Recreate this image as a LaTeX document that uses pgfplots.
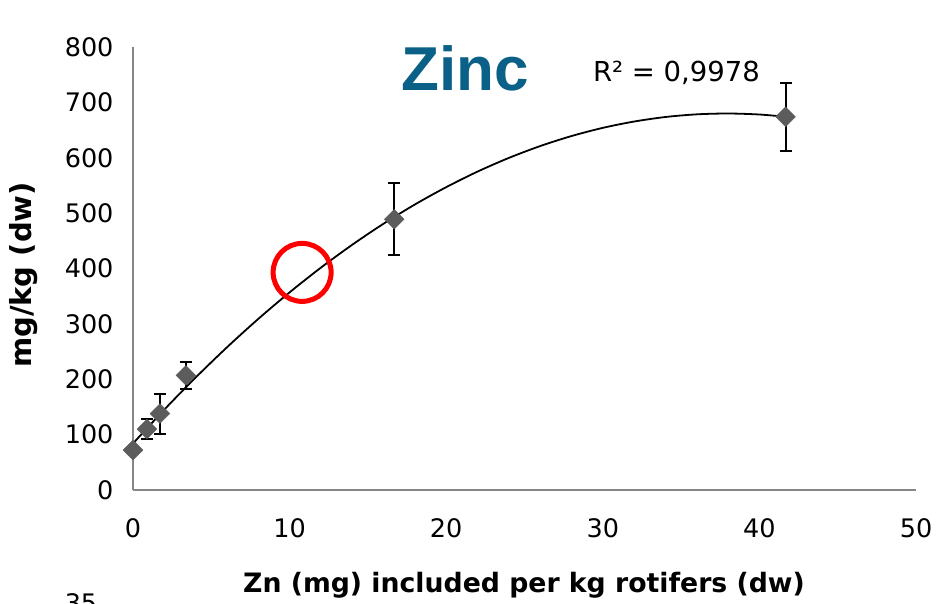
\documentclass[border=0pt]{standalone}
\usepackage{pgfplots}
\pgfplotsset{compat=1.18}
\usepackage{fontspec}
\setmainfont{DejaVu Sans}
\newfontfamily\titlefont{Liberation Sans}
\definecolor{zinctitle}{RGB}{10,96,134}
\definecolor{markgray}{RGB}{92,92,92}
\definecolor{axisgray}{RGB}{134,134,134}

% measured concentrations: x, mean, error
\pgfplotstableread{
x      y    err
0.89   110  18
1.72   138  36
3.38   207  25
16.68  489  65
41.67  674  61
}\zincdata

\begin{document}
\begin{tikzpicture}[x=1pt,y=1pt]
\begin{axis}[
  scale only axis, width=783pt, height=443pt,
  xmin=0, xmax=50, ymin=0, ymax=800,
  xtick={0,10,...,50}, ytick={0,100,...,800},
  axis x line*=bottom, axis y line*=left,
  axis line style={draw=axisgray, line width=2pt},
  major tick length=0pt,
  tick style={draw=none},
  /pgf/number format/assume math mode=true,
  ticklabel style={font=\fontsize{25.5}{28}\selectfont},
  xticklabel style={yshift=-25pt},
  yticklabel style={xshift=-16pt},
  clip=false,
]
\coordinate (O) at (axis cs:0,0);
% error bars and markers
\addplot[only marks, mark=square*, mark size=7pt,
  mark options={rotate=45, fill=markgray, draw=markgray},
  error bars/.cd, y dir=both, y explicit,
  error bar style={black, line width=2pt},
  error mark options={rotate=90, mark size=6pt, black, line width=2pt}]
  table[x=x, y=y, y error=err] {\zincdata};
\addplot[only marks, mark=square*, mark size=7pt,
  mark options={rotate=45, fill=markgray, draw=markgray}]
  coordinates {(0,72)};
% second-order polynomial trendline
\addplot[smooth, black, line width=1.8pt] coordinates {
(0,84) (2,145.2) (4,203.1) (6,257.7) (8,309.0) (10,356.9) (12,401.6)
(14,442.9) (16,480.9) (18,515.6) (20,546.9) (22,575.0) (24,599.7)
(26,621.1) (28,639.2) (30,654.0) (32,665.4) (34,673.6) (36,678.4)
(38,679.9) (40,678.1) (41.67,674.0)};
% highlighted region
\addplot[only marks, mark=o, mark size=29pt,
  mark options={draw=red, line width=5pt}] coordinates {(10.8,393)};
\end{axis}
\path (O) ++(-133,-113) coordinate (BL);
\pgfresetboundingbox
\useasboundingbox (BL) rectangle ++(936,603);
\begin{scope}[shift={(BL)}]
\node[font=\titlefont\bfseries\fontsize{62}{70}\selectfont, text=zinctitle]
  at (465,535) {Zinc};
\node[font=\fontsize{27.5}{30}\selectfont] at (676.5,530) {R² = 0,9978};
\node[font=\bfseries\fontsize{29}{32}\selectfont, rotate=90] at (24,328) {mg/kg (dw)};
\node[font=\bfseries\fontsize{26.7}{30}\selectfont] at (524,18) {Zn (mg) included per kg rotifers (dw)};
\clip (0,0) rectangle (936,603);
\node[font=\fontsize{25.5}{28}\selectfont, anchor=north, inner sep=0pt] at (81,10) {35};
\end{scope}
\end{tikzpicture}
\end{document}
